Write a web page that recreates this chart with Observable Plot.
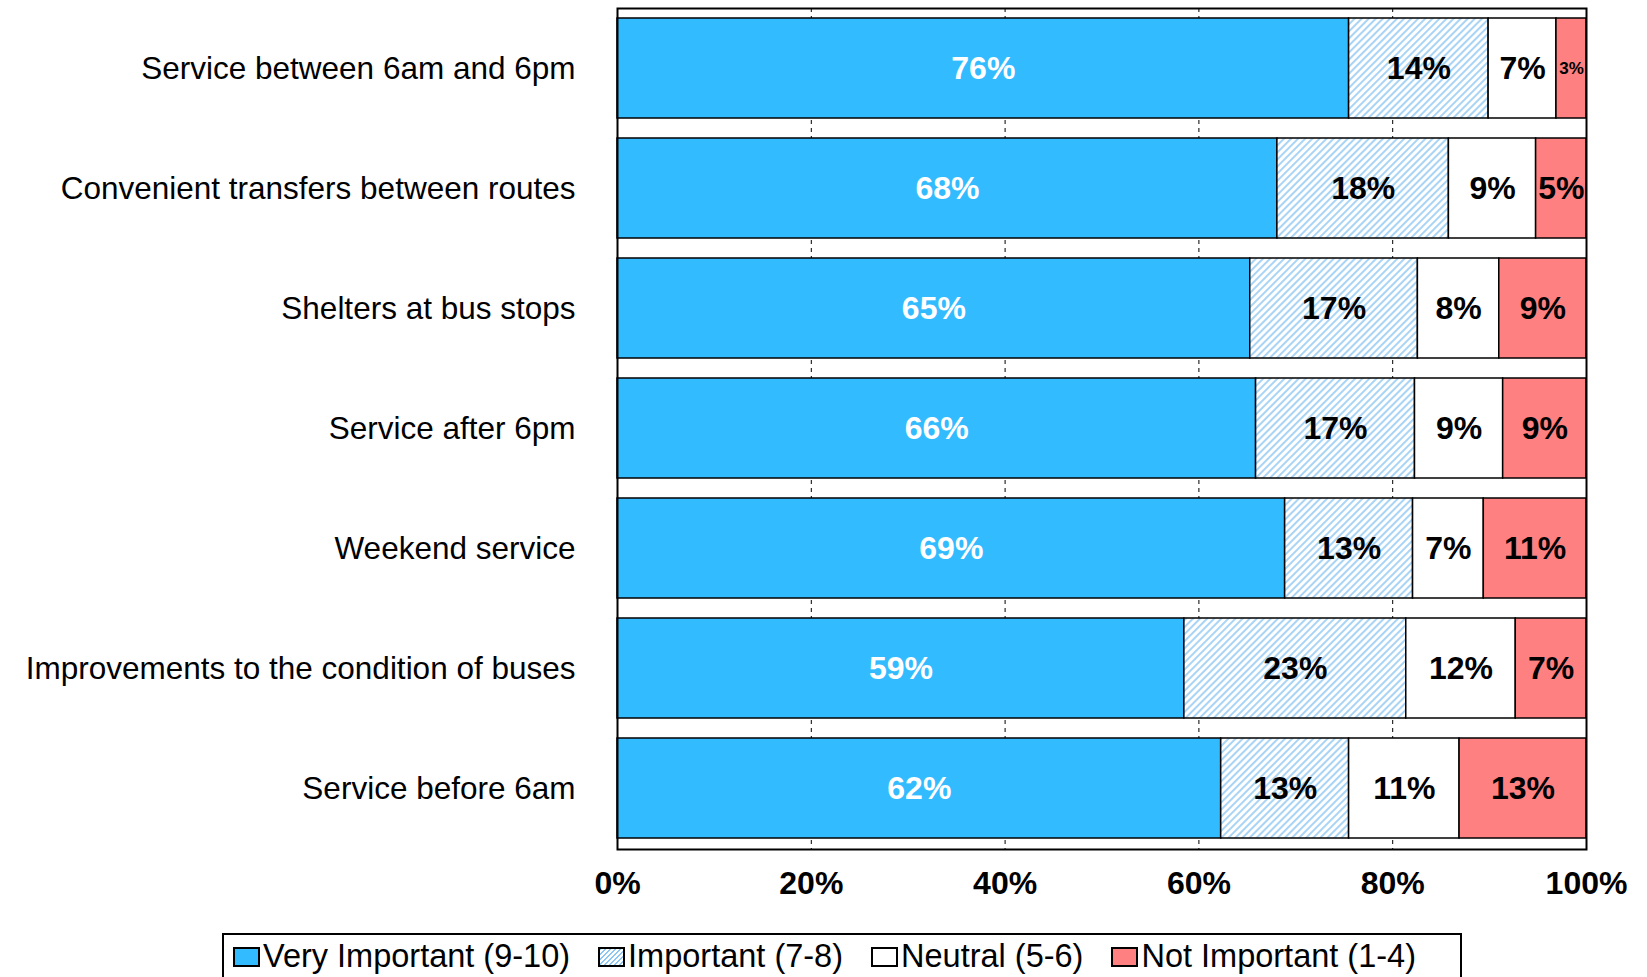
<!DOCTYPE html>
<html><head><meta charset="utf-8">
<script src="https://cdn.jsdelivr.net/npm/d3@7"></script>
<script src="https://cdn.jsdelivr.net/npm/@observablehq/plot@0.6"></script>
<style>
body{margin:0;background:#fff;font-family:"Liberation Sans",Arial,sans-serif;}
#chart svg{display:block}
#chart g[aria-label^="x-axis"] text{font-weight:bold;font-size:32px;}
.legend{margin-left:222px;margin-top:8px;width:1240px;height:60px;border:2px solid #000;box-sizing:border-box;display:flex;align-items:flex-start;padding:3px 0 0 9px;font-size:32.5px;color:#000;}
.item{display:flex;align-items:center;margin-right:28px;white-space:nowrap;}
.sw{width:27px;height:20px;border:2px solid #000;box-sizing:border-box;margin-right:3px;}
</style>
</head><body>
<div id="chart"></div>
<div class="legend" id="legend"></div>
<script>
const categories = ["Service between 6am and 6pm", "Convenient transfers between routes", "Shelters at bus stops", "Service after 6pm", "Weekend service", "Improvements to the condition of buses", "Service before 6am"];
const seriesNames = ["Very Important (9-10)", "Important (7-8)", "Neutral (5-6)", "Not Important (1-4)"];
const veryImportant = [75.5, 68.1, 65.3, 65.9, 68.9, 58.5, 62.3];
const important = [14.4, 17.7, 17.3, 16.4, 13.2, 22.9, 13.2];
const neutral = [7.0, 9.0, 8.4, 9.1, 7.3, 11.3, 11.4];
const notImportant = [3.1, 5.2, 9.0, 8.6, 10.6, 7.3, 13.1];
const veryImportantLabels = ["76%","68%","65%","66%","69%","59%","62%"];
const importantLabels = ["14%","18%","17%","17%","13%","23%","13%"];
const neutralLabels = ["7%","9%","8%","9%","7%","12%","11%"];
const notImportantLabels = ["3%","5%","9%","9%","11%","7%","13%"];
const xTicks = [0, 20, 40, 60, 80, 100];

const seriesValues = [veryImportant, important, neutral, notImportant];
const seriesLabels = [veryImportantLabels, importantLabels, neutralLabels, notImportantLabels];
const fills = ["#33BBFF", "url(#hatch)", "#FFFFFF", "#FF8080"];
const swatchBg = ["#33BBFF", "repeating-linear-gradient(-45deg,#fff 0 2px,#8cc6f2 2px 3.5px)", "#FFFFFF", "#FF8080"];
const textFills = ["white", "black", "black", "black"];

const rows = [];
categories.forEach((cat, i) => {
  seriesNames.forEach((s, j) => {
    const v = seriesValues[j][i];
    rows.push({cat, series: s, value: v, label: seriesLabels[j][i], fill: fills[j], textFill: textFills[j], fs: v < 4 ? 17 : 32});
  });
});

const svg = Plot.plot({
  width: 1647, height: 925,
  marginLeft: 617, marginRight: 61, marginTop: 8, marginBottom: 76,
  style: {fontFamily: "'Liberation Sans', Arial, sans-serif", fontSize: "31.5px", background: "white", overflow: "visible", color: "black"},
  x: {domain: [0, 100], ticks: xTicks, tickFormat: d => d + "%", tickSize: 0, tickPadding: 22, label: null},
  y: {domain: categories, paddingInner: 0.165, paddingOuter: 0.08, tickSize: 0, tickPadding: 42, label: null},
  color: {type: "identity"},
  marks: [
    Plot.ruleX(xTicks.slice(1, -1), {stroke: "black", strokeDasharray: "4,4", strokeWidth: 1}),
    Plot.barX(rows, Plot.stackX({x: "value", y: "cat", z: "series", fill: "fill", stroke: "black", strokeWidth: 1.5})),
    Plot.text(rows, Plot.stackX({x: "value", y: "cat", z: "series", text: "label", fill: "textFill", fontSize: d => d.fs, fontWeight: "bold"})),
    Plot.frame({stroke: "black", strokeWidth: 2})
  ]
});

const defs = d3.select(svg).insert("defs", ":first-child");
const pat = defs.append("pattern").attr("id", "hatch").attr("patternUnits", "userSpaceOnUse")
  .attr("width", 5).attr("height", 5).attr("patternTransform", "rotate(45)");
pat.append("rect").attr("width", 5).attr("height", 5).attr("fill", "white");
pat.append("line").attr("x1", 1).attr("y1", 0).attr("x2", 1).attr("y2", 5).attr("stroke", "#8cc6f2").attr("stroke-width", 1.5);

document.getElementById("chart").appendChild(svg);

const legend = document.getElementById("legend");
seriesNames.forEach((s, j) => {
  const it = document.createElement("div");
  it.className = "item";
  const sw = document.createElement("div");
  sw.className = "sw";
  sw.style.background = swatchBg[j];
  const t = document.createElement("span");
  t.textContent = s;
  it.appendChild(sw); it.appendChild(t);
  legend.appendChild(it);
});
</script>
</body></html>
